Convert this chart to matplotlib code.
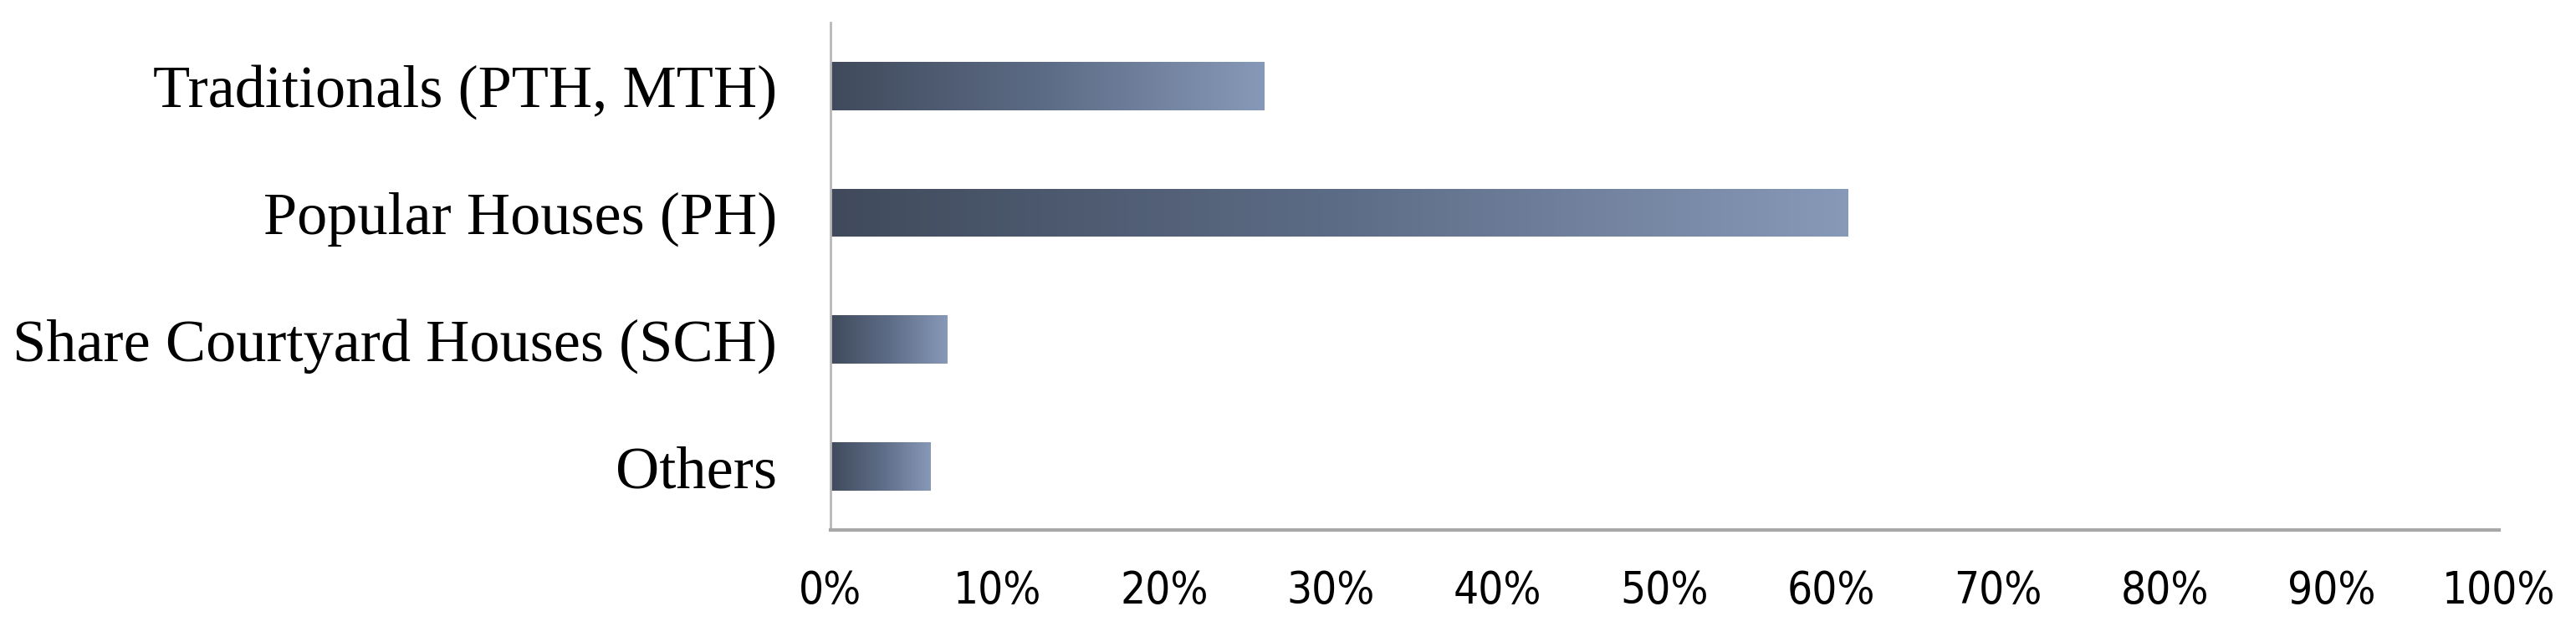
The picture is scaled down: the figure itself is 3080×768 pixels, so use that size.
import matplotlib
matplotlib.use("Agg")
import matplotlib.pyplot as plt
import numpy as np
from matplotlib.colors import LinearSegmentedColormap

# Datos
categorias = ["Traditionals (PTH, MTH)", "Popular Houses (PH)",
              "Share Courtyard Houses (SCH)", "Others"]
valores = [26, 61, 7, 6]
ticks_x = list(range(0, 101, 10))
etiquetas_x = [f"{t}%" for t in ticks_x]

fig = plt.figure(figsize=(30.8, 7.68), dpi=100)
ax = fig.add_axes([0.3224, 0.1745, 0.6476, 0.7905])

y = np.arange(len(categorias))[::-1]
barras = ax.barh(y, valores, height=0.38, color="none", edgecolor="none")

# Degradado oscuro -> claro en cada barra
cmap = LinearSegmentedColormap.from_list("grad", ["#404a5c", "#5d6c86", "#8799b8"])
grad = np.linspace(0, 1, 256).reshape(1, -1)
for b in barras:
    x0, y0 = b.get_x(), b.get_y()
    w, h = b.get_width(), b.get_height()
    im = ax.imshow(grad, cmap=cmap, aspect="auto",
                   extent=[x0, x0 + w, y0, y0 + h], zorder=2)
    im.set_clip_path(b)

ax.set_xlim(0, 100)
ax.set_ylim(-0.5, len(categorias) - 0.5)
ax.set_xticks(ticks_x)
ax.set_xticklabels(etiquetas_x, family="DejaVu Sans", fontstretch="condensed",
                   fontsize=38)
ax.set_yticks(y)
ax.set_yticklabels(categorias, family=["Liberation Serif", "DejaVu Serif"], fontsize=52)
ax.tick_params(axis="both", length=0)
ax.tick_params(axis="x", pad=34)
ax.tick_params(axis="y", pad=46)

for s in ["top", "right"]:
    ax.spines[s].set_visible(False)
ax.spines["left"].set_color("#b8b8b8")
ax.spines["left"].set_linewidth(2)
ax.spines["bottom"].set_color("#a8a8a8")
ax.spines["bottom"].set_linewidth(3)

fig.savefig("out.png", dpi=100, facecolor="white")
